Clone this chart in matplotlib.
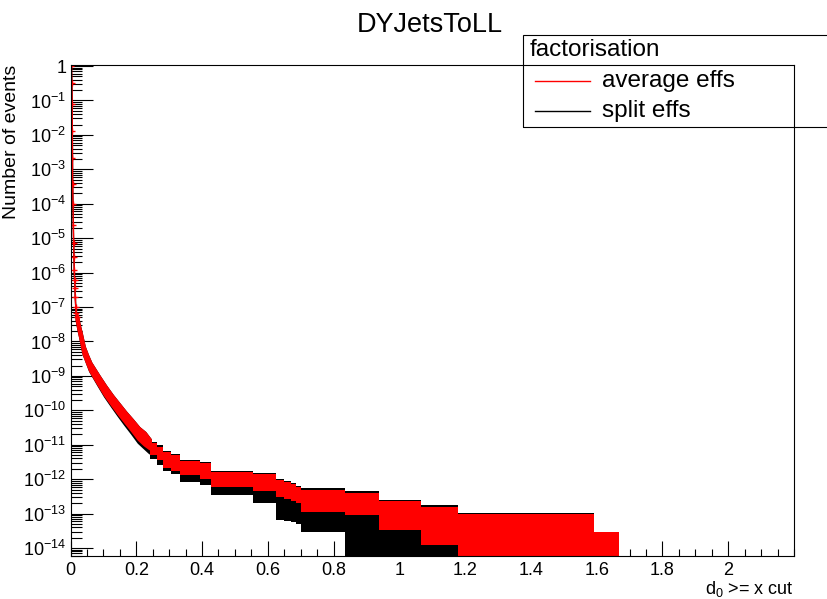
import numpy as np
import matplotlib.pyplot as plt
from matplotlib.ticker import FixedLocator, FuncFormatter, LogLocator, NullFormatter
from matplotlib.patches import Rectangle
from matplotlib.lines import Line2D

plt.rcParams['font.family'] = 'Liberation Sans'
plt.rcParams['mathtext.fontset'] = 'custom'
plt.rcParams['mathtext.rm'] = 'Liberation Sans'
plt.rcParams['mathtext.it'] = 'Liberation Sans:italic'
plt.rcParams['mathtext.default'] = 'regular'

# values are log10(number of events)
# first bins: single points
x_first = [0.003, 0.004, 0.005, 0.0055, 0.006, 0.0065, 0.0075, 0.0085, 0.0095,
           0.0105, 0.0115, 0.0125, 0.0135, 0.0145, 0.016, 0.017, 0.019]
lg_first = [0.0, -0.49, -1.1, -1.89, -2.67, -3.43, -4.0, -4.62, -5.14,
            -5.54, -5.92, -6.21, -6.44, -6.7, -7.0, -7.17, -7.3]

# smooth part, upper/lower edge of the error band
x_curve = [0.019, 0.025, 0.03, 0.04, 0.05, 0.06, 0.085, 0.105, 0.126, 0.146,
           0.166, 0.187, 0.207, 0.225, 0.241]
red_hi_c = [-7.24, -7.53, -7.72, -8.15, -8.4, -8.62, -9.0, -9.29, -9.57, -9.81,
            -10.05, -10.28, -10.51, -10.65, -10.85]
red_lo_c = [-7.36, -7.67, -7.88, -8.35, -8.6, -8.84, -9.24, -9.55, -9.83, -10.09,
            -10.33, -10.58, -10.83, -10.99, -11.1]
black_hi_c = [-7.24, -7.53, -7.72, -8.15, -8.4, -8.62, -9.0, -9.29, -9.57, -9.81,
              -10.05, -10.28, -10.51, -10.65, -10.85]
black_lo_c = [-7.36, -7.67, -7.88, -8.35, -8.6, -8.85, -9.26, -9.58, -9.87, -10.14,
              -10.4, -10.66, -10.92, -11.08, -11.22]

# stepped part (bin starts)
x_step = [0.241, 0.262, 0.28, 0.305, 0.332, 0.393, 0.428, 0.555, 0.626, 0.65,
          0.67, 0.686, 0.70, 0.836, 0.939, 1.066, 1.177, 1.592]
red_end = 1.668
red_hi_s = [-10.95, -11.05, -11.2, -11.3, -11.48, -11.52, -11.78, -11.85, -12.02, -12.08,
            -12.15, -12.22, -12.3, -12.39, -12.63, -12.8, -13.02, -13.52]
red_lo_s = [-11.3, -11.45, -11.66, -11.75, -11.88, -11.98, -12.22, -12.33, -12.52, -12.58,
            -12.64, -12.7, -12.94, -13.04, -13.47, -13.9, -16, -16]
black_end = 1.592
black_hi_s = [-10.92, -11.02, -11.17, -11.27, -11.45, -11.49, -11.75, -11.82, -11.99, -12.05,
              -12.12, -12.19, -12.26, -12.35, -12.59, -12.76, -12.98]
black_lo_s = [-11.42, -11.58, -11.75, -11.85, -12.07, -12.17, -12.46, -12.69, -13.18, -13.2,
              -13.24, -13.3, -13.52, -16, -16, -16, -16]

fig = plt.figure(figsize=(8.28, 5.99), dpi=100)
ax = fig.add_axes([70.5/828, 1-556/599, (794-70.5)/828, (556-65)/599])

def p(v):
    return np.power(10.0, np.array(v, dtype=float))

# split effs (black) underneath
ax.plot(x_first, p(lg_first), color='black', lw=1, zorder=2)
ax.fill_between(x_curve, p(black_lo_c), p(black_hi_c), facecolor='black',
                edgecolor='black', lw=2.5, zorder=2)
xb = np.append(x_step[:len(black_hi_s)], black_end)
ax.fill_between(xb, p(black_lo_s + black_lo_s[-1:]), p(black_hi_s + black_hi_s[-1:]),
                step='post', color='black', lw=0, zorder=2)

# average effs (red) on top
ax.plot(x_first, p(lg_first), color='red', lw=1, marker='+', ms=5, mew=1, zorder=3)
ax.fill_between(x_curve, p(red_lo_c), p(red_hi_c), facecolor='red',
                edgecolor='red', lw=2.5, zorder=3)
xr = np.append(x_step, red_end)
ax.fill_between(xr, p(red_lo_s + red_lo_s[-1:]), p(red_hi_s + red_hi_s[-1:]),
                step='post', color='red', lw=0, zorder=3)

ax.set_yscale('log')
ax.set_xlim(0, 2.2)
ax.set_ylim(10**-14.23, 10**0.03)

ax.yaxis.set_major_locator(FixedLocator([10.0**-k for k in range(15)]))
ax.yaxis.set_minor_locator(LogLocator(base=10, subs=np.arange(2, 10), numticks=100))
ax.yaxis.set_minor_formatter(NullFormatter())
ax.yaxis.set_major_formatter(FuncFormatter(
    lambda v, pos: '1' if abs(np.log10(v)) < 0.01 else '$10^{%d}$' % round(np.log10(v))))

ax.xaxis.set_major_locator(FixedLocator([0, 0.2, 0.4, 0.6, 0.8, 1.0, 1.2, 1.4, 1.6, 1.8, 2.0]))
ax.xaxis.set_minor_locator(FixedLocator([i * 0.05 for i in range(45)]))
ax.xaxis.set_major_formatter(FuncFormatter(lambda v, pos: '%g' % v))

ax.tick_params(axis='both', which='both', direction='in', labelsize=13, width=0.8)
ax.tick_params(axis='y', which='major', length=15.8, pad=3)
ax.tick_params(axis='y', which='minor', length=7.9)
ax.tick_params(axis='x', which='major', length=10.6, pad=4)
ax.tick_params(axis='x', which='minor', length=5.3)
for s in ax.spines.values():
    s.set_linewidth(0.8)
    s.set_zorder(5)

ax.set_ylabel('Number of events', fontsize=14, loc='top')
ax.yaxis.set_label_coords((20 - 70.5)/723.5, 1.0)
ax.set_xlabel('d$_0$ >= x cut', fontsize=13, loc='right')
ax.xaxis.set_label_coords(1.0, -(579 - 556)/491)

fig.text(429.5/828, 1 - 25/599, 'DYJetsToLL', ha='center', va='center', fontsize=19.5)

# legend box (drawn without fill, frame goes over it)
fig.add_artist(Rectangle((523/828, 1 - 127/599), (840 - 523)/828, (127 - 35)/599,
                         transform=fig.transFigure, fill=False, ec='black', lw=0.8))
fig.text(530/828, 1 - 56/599, 'factorisation', ha='left', va='baseline', fontsize=17.5)
fig.add_artist(Line2D([535/828, 590/828], [1 - 81/599, 1 - 81/599],
                      transform=fig.transFigure, color='red', lw=1))
fig.text(602/828, 1 - 86.7/599, 'average effs', ha='left', va='baseline', fontsize=17.5)
fig.add_artist(Line2D([535/828, 590/828], [1 - 111/599, 1 - 111/599],
                      transform=fig.transFigure, color='black', lw=1))
fig.text(602/828, 1 - 116.7/599, 'split effs', ha='left', va='baseline', fontsize=17.5)

fig.savefig('out.png', dpi=100)
